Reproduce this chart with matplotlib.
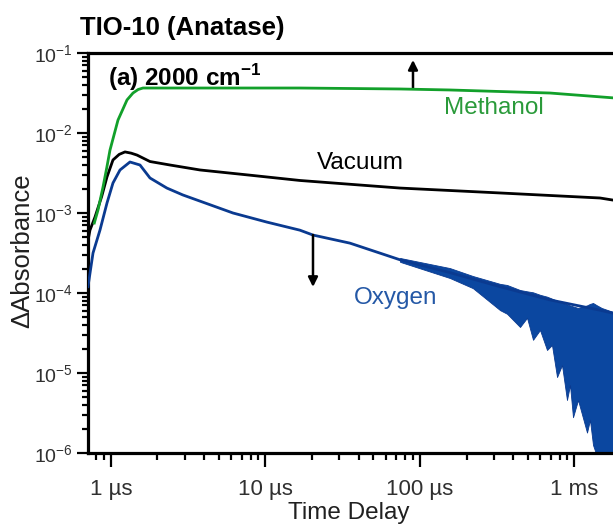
import numpy as np
import matplotlib
matplotlib.use("Agg")
import matplotlib.pyplot as plt
from matplotlib.ticker import LogLocator, FixedLocator, FixedFormatter

plt.rcParams['font.family'] = ['Liberation Sans', 'DejaVu Sans']
plt.rcParams['mathtext.fontset'] = 'custom'
plt.rcParams['mathtext.rm'] = 'Liberation Sans'
plt.rcParams['mathtext.bf'] = 'Liberation Sans:bold'

# ── Data (time in µs, ΔAbsorbance) ───────────────────────────────────────────
t_meth = [0.78, 0.824, 0.888, 0.942, 0.985, 1.11, 1.27, 1.388, 1.50, 1.611,
          5.0, 16.7, 74.3, 156, 330, 694, 1775]
a_meth = [7.5e-4, 1.09e-3, 2.11e-3, 3.8e-3, 6.1e-3, 1.45e-2, 2.59e-2, 3.16e-2,
          3.5e-2, 3.65e-2, 3.65e-2, 3.65e-2, 3.55e-2, 3.45e-2, 3.3e-2,
          3.16e-2, 2.75e-2]

t_vac = [0.71, 0.731, 0.788, 0.87, 0.942, 1.03, 1.13, 1.232, 1.35, 1.473,
         1.788, 2.41, 3.77, 7.94, 16.7, 74.3, 330, 1462, 1775]
a_vac = [4.5e-4, 6.1e-4, 8.9e-4, 1.6e-3, 2.82e-3, 4.6e-3, 5.4e-3, 5.8e-3,
         5.6e-3, 5.3e-3, 4.4e-3, 3.98e-3, 3.45e-3, 2.97e-3, 2.55e-3, 2.05e-3,
         1.78e-3, 1.54e-3, 1.45e-3]

t_oxy = [0.71, 0.765, 0.849, 0.942, 1.03, 1.144, 1.327, 1.541, 1.788, 2.30,
         2.92, 6.16, 10.2, 16.7, 20.3, 35.2, 74.3, 156, 330, 694, 1462, 1775]
a_oxy = [1.2e-4, 3.16e-4, 6.13e-4, 1.33e-3, 2.37e-3, 3.45e-3, 4.34e-3,
         3.98e-3, 2.74e-3, 2.05e-3, 1.68e-3, 1.0e-3, 7.7e-4, 6.1e-4, 5.3e-4,
         4.2e-4, 2.6e-4, 1.8e-4, 1.2e-4, 8.2e-5, 6.1e-5, 5.6e-5]

# noisy tail of the oxygen trace (envelope)
t_band = [74.3, 156, 220, 330, 366, 444, 493, 539, 598, 664, 715, 771, 830,
          894, 935, 978, 1054, 1205, 1259, 1318, 1399, 1500, 1775]
lo_band = [2.45e-4, 1.54e-4, 1.15e-4, 6.1e-5, 5.5e-5, 3.76e-5, 4.9e-5, 2.6e-5,
           3.45e-5, 1.94e-5, 2.24e-5, 8.9e-6, 1.26e-5, 4.6e-6, 7.1e-6, 2.8e-6,
           4.6e-6, 1.8e-6, 2.6e-6, 1.26e-6, 9e-7, 5e-7, 5e-7]
hi_band = [2.74e-4, 2.05e-4, 1.63e-4, 1.30e-4, 1.26e-4, 1.09e-4, 1.05e-4,
           1.02e-4, 9.5e-5, 9e-5, 8.5e-5, 8e-5, 7.6e-5, 7.2e-5, 7.0e-5, 6.8e-5,
           6.5e-5, 7.0e-5, 7.3e-5, 7.5e-5, 7.0e-5, 6.5e-5, 5.8e-5]

x_ticks = [1, 10, 100, 1000]
x_labels = ["1 µs", "10 µs", "100 µs", "1 ms"]

GREEN = "#12a02a"
BLACK = "#000000"
BLUE = "#0a3a90"

# ── Figure ───────────────────────────────────────────────────────────────────
fig = plt.figure(figsize=(6.13, 5.29), dpi=100)
ax = fig.add_axes([88 / 613, 76 / 529, 525 / 613, 400 / 529])

ax.fill_between(t_band, lo_band, hi_band, color="#0b47a0", lw=0.6,
                edgecolor=BLUE, zorder=2)
ax.plot(t_oxy, a_oxy, color=BLUE, lw=2.0, zorder=3)
ax.plot(t_vac, a_vac, color=BLACK, lw=2.0, zorder=4)
ax.plot(t_meth, a_meth, color=GREEN, lw=2.0, zorder=5)

ax.set_xscale("log")
ax.set_yscale("log")
ax.set_xlim(0.71, 1775)
ax.set_ylim(1e-6, 1e-1)

ax.xaxis.set_major_locator(FixedLocator(x_ticks))
ax.xaxis.set_major_formatter(FixedFormatter(x_labels))
ax.xaxis.set_minor_locator(LogLocator(base=10, subs=np.arange(2, 10)))
ax.yaxis.set_major_locator(LogLocator(base=10, numticks=10))
ax.yaxis.set_minor_locator(LogLocator(base=10, subs=np.arange(2, 10), numticks=10))

for s in ["left", "bottom", "top"]:
    ax.spines[s].set_linewidth(2.3)
ax.spines["right"].set_visible(False)

ax.tick_params(axis="x", which="major", direction="out", length=10, width=1.6,
               labelsize=16, labelcolor="#303030", pad=9, top=False)
ax.tick_params(axis="x", which="minor", direction="out", length=5, width=1.6,
               top=False)
ax.tick_params(axis="y", which="major", direction="out", length=8, width=1.6,
               labelsize=14, labelcolor="#303030", pad=3, right=False)
ax.tick_params(axis="y", which="minor", direction="out", length=4.5, width=1.6,
               right=False)

# arrows
ax.annotate("", xy=(90.1, 0.0818), xytext=(90.1, 0.0365),
            arrowprops=dict(arrowstyle="-|>", lw=1.8, color="black",
                            mutation_scale=14, shrinkA=0, shrinkB=0))
ax.annotate("", xy=(20.3, 1.19e-4), xytext=(20.3, 5.31e-4),
            arrowprops=dict(arrowstyle="-|>", lw=1.8, color="black",
                            mutation_scale=14, shrinkA=0, shrinkB=0))

# curve labels
ax.text(301, 0.0205, "Methanol", color="#2a9a3a", fontsize=17.5,
        ha="center", va="center")
ax.text(40.9, 0.00422, "Vacuum", color="black", fontsize=17.5,
        ha="center", va="center")
ax.text(70, 8.66e-5, "Oxygen", color="#2458a6", fontsize=17.5,
        ha="center", va="center")

ax.text(0.038, 0.9375, r"(a) 2000 cm$^{\mathbf{-1}}$", transform=ax.transAxes,
        fontsize=17.5, fontweight="bold", ha="left", va="center")

fig.text(80 / 613, 1 - 28 / 529, "TIO-10 (Anatase)", fontsize=18.5,
         fontweight="bold", ha="left", va="center")
fig.text(349 / 613, 1 - 513 / 529, "Time Delay", fontsize=17.5,
         color="#202020", ha="center", va="center")
fig.text(22 / 613, 1 - 251 / 529, "ΔAbsorbance", fontsize=18.5, rotation=90,
         color="#202020", ha="center", va="center")

fig.savefig("out.png", dpi=100)
